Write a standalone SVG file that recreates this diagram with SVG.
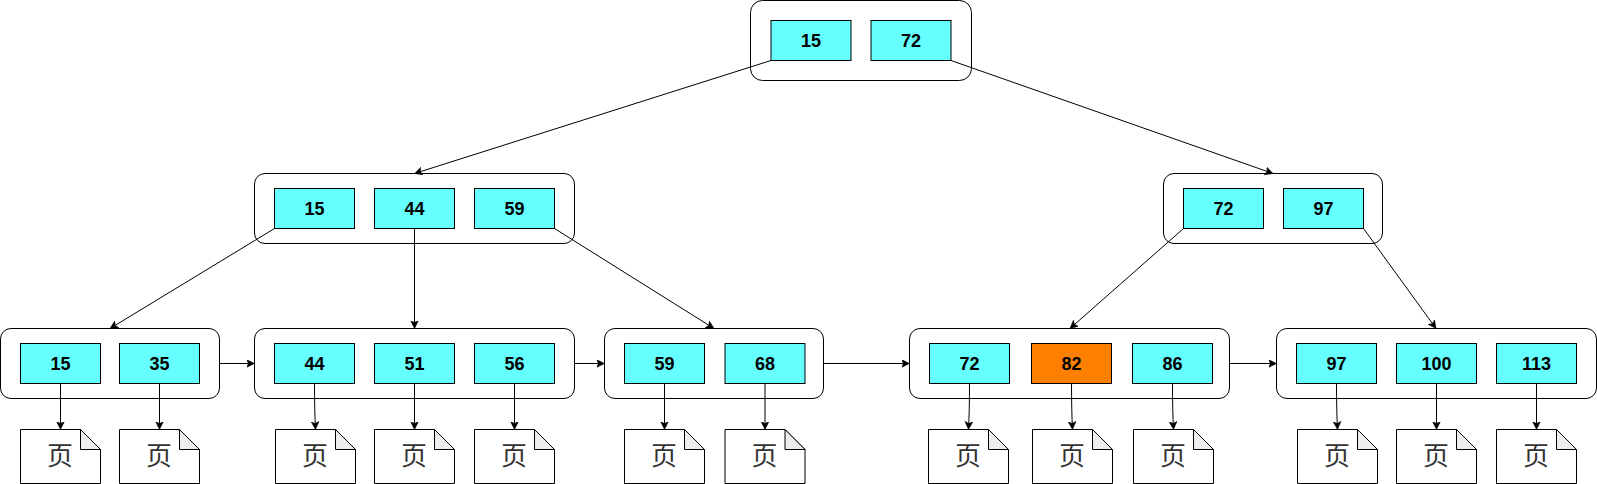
<svg xmlns="http://www.w3.org/2000/svg" width="1597" height="484" viewBox="0 0 1597 484">
<style>
.c{fill:#fff;stroke:#000;stroke-width:1}
.k{fill:#66ffff;stroke:#000;stroke-width:1}
.o{fill:#ff8000}
.t{font:bold 18px "Liberation Sans",Arial,sans-serif;text-anchor:middle;fill:#000}
.p{font:26px "Noto Sans CJK SC","Noto Sans CJK JP",sans-serif;text-anchor:middle;fill:#333}
.d{fill:#fff;stroke:#000;stroke-width:1}
.f{fill:#eee;stroke:#000;stroke-width:1}
.l{fill:none;stroke:#000;stroke-width:1;marker-end:url(#a)}
</style>
<defs>
<marker id="a" markerUnits="userSpaceOnUse" markerWidth="10" markerHeight="10" refX="8" refY="4" orient="auto"><path d="M0 0L8 4L0 8L2 4Z" fill="#000" stroke="#000" stroke-width="0.5"/></marker>
<g id="doc"><path class="d" d="M0 0H60L80 20V54H0Z"/><path class="f" d="M60 0V20H80Z"/><text class="p" x="39.5" y="35.5">页</text></g>
</defs>
<rect width="1597" height="484" fill="#fff"/>
<g id="n-root"><rect class="c" x="750.5" y="0.5" width="221" height="80" rx="12"/>
<rect class="k" x="771" y="20.5" width="80" height="40"/><text class="t" x="811" y="46.5">15</text>
<rect class="k" x="871" y="20.5" width="80" height="40"/><text class="t" x="911" y="46.5">72</text></g>
<g id="n-l"><rect class="c" x="254.5" y="173.5" width="320" height="70" rx="10.5"/>
<rect class="k" x="274.5" y="188.5" width="80" height="40"/><text class="t" x="314.5" y="214.5">15</text>
<rect class="k" x="374.5" y="188.5" width="80" height="40"/><text class="t" x="414.5" y="214.5">44</text>
<rect class="k" x="474.5" y="188.5" width="80" height="40"/><text class="t" x="514.5" y="214.5">59</text></g>
<g id="n-r"><rect class="c" x="1163.5" y="173.5" width="219" height="70" rx="10.5"/>
<rect class="k" x="1183.5" y="188.5" width="80" height="40"/><text class="t" x="1223.5" y="214.5">72</text>
<rect class="k" x="1283.5" y="188.5" width="80" height="40"/><text class="t" x="1323.5" y="214.5">97</text></g>
<g id="n-a"><rect class="c" x="0.5" y="328.5" width="219" height="70" rx="10.5"/>
<rect class="k" x="20.5" y="343.5" width="80" height="40"/><text class="t" x="60.5" y="369.5">15</text>
<rect class="k" x="119.5" y="343.5" width="80" height="40"/><text class="t" x="159.5" y="369.5">35</text></g>
<g id="n-b"><rect class="c" x="254.5" y="328.5" width="320" height="70" rx="10.5"/>
<rect class="k" x="274.5" y="343.5" width="80" height="40"/><text class="t" x="314.5" y="369.5">44</text>
<rect class="k" x="374.5" y="343.5" width="80" height="40"/><text class="t" x="414.5" y="369.5">51</text>
<rect class="k" x="474.5" y="343.5" width="80" height="40"/><text class="t" x="514.5" y="369.5">56</text></g>
<g id="n-c"><rect class="c" x="604.5" y="328.5" width="219" height="70" rx="10.5"/>
<rect class="k" x="624.5" y="343.5" width="80" height="40"/><text class="t" x="664.5" y="369.5">59</text>
<rect class="k" x="725" y="343.5" width="80" height="40"/><text class="t" x="765" y="369.5">68</text></g>
<g id="n-d"><rect class="c" x="909.5" y="328.5" width="320" height="70" rx="10.5"/>
<rect class="k" x="929.5" y="343.5" width="80" height="40"/><text class="t" x="969.5" y="369.5">72</text>
<rect class="k o" x="1031.5" y="343.5" width="80" height="40"/><text class="t" x="1071.5" y="369.5">82</text>
<rect class="k" x="1132.5" y="343.5" width="80" height="40"/><text class="t" x="1172.5" y="369.5">86</text></g>
<g id="n-e"><rect class="c" x="1276.5" y="328.5" width="320" height="70" rx="10.5"/>
<rect class="k" x="1296.5" y="343.5" width="80" height="40"/><text class="t" x="1336.5" y="369.5">97</text>
<rect class="k" x="1396.5" y="343.5" width="80" height="40"/><text class="t" x="1436.5" y="369.5">100</text>
<rect class="k" x="1496.5" y="343.5" width="80" height="40"/><text class="t" x="1536.5" y="369.5">113</text></g>
<g id="docs">
<use href="#doc" x="20.5" y="429.5"/><use href="#doc" x="119.5" y="429.5"/>
<use href="#doc" x="275.5" y="429.5"/><use href="#doc" x="374.5" y="429.5"/><use href="#doc" x="474.5" y="429.5"/>
<use href="#doc" x="624.5" y="429.5"/><use href="#doc" x="725" y="429.5"/>
<use href="#doc" x="928.5" y="429.5"/><use href="#doc" x="1032.5" y="429.5"/><use href="#doc" x="1133.5" y="429.5"/>
<use href="#doc" x="1297.5" y="429.5"/><use href="#doc" x="1396.5" y="429.5"/><use href="#doc" x="1496.5" y="429.5"/>
</g>
<g id="connectors">
<path class="l" d="M771 60.5L414.5 173.5"/>
<path class="l" d="M951 60.5L1273 173.5"/>
<path class="l" d="M274.5 228.5L110 328.5"/>
<path class="l" d="M414.5 228.5V328.5"/>
<path class="l" d="M554.5 228.5L714 328.5"/>
<path class="l" d="M1183.5 228.5L1070 328.5"/>
<path class="l" d="M1363.5 228.5L1436 328.5"/>
<path class="l" d="M219.5 363.5H254.5"/>
<path class="l" d="M574.5 363.5H604.5"/>
<path class="l" d="M823.5 363.5H909.5"/>
<path class="l" d="M1229.5 363.5H1276.5"/>
<path class="l" d="M60.5 383.5V429.5"/>
<path class="l" d="M159.5 383.5V429.5"/>
<path class="l" d="M314.5 383.5Q314.5 410 315.5 429.5"/>
<path class="l" d="M414.5 383.5V429.5"/>
<path class="l" d="M514.5 383.5V429.5"/>
<path class="l" d="M664.5 383.5V429.5"/>
<path class="l" d="M765 383.5V429.5"/>
<path class="l" d="M969.5 383.5Q969.5 410 968.5 429.5"/>
<path class="l" d="M1071.5 383.5Q1071.5 410 1072.5 429.5"/>
<path class="l" d="M1172.5 383.5Q1172.5 410 1173.5 429.5"/>
<path class="l" d="M1336.5 383.5Q1336.5 410 1337.5 429.5"/>
<path class="l" d="M1436.5 383.5V429.5"/>
<path class="l" d="M1536.5 383.5V429.5"/>
</g>
</svg>
